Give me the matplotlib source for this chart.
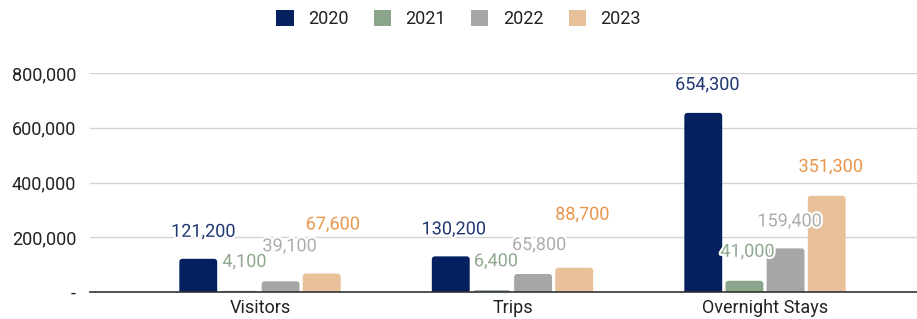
import matplotlib
matplotlib.use("Agg")
import matplotlib.pyplot as plt
import matplotlib.patheffects as pe
from matplotlib.patches import FancyBboxPatch, Patch
import numpy as np

categories = ["Visitors", "Trips", "Overnight Stays"]
years = ["2020", "2021", "2022", "2023"]
v2020 = [121200, 130200, 654300]
v2021 = [4100, 6400, 41000]
v2022 = [39100, 65800, 159400]
v2023 = [67600, 88700, 351300]
yticks = [0, 200000, 400000, 600000, 800000]
ytick_labels = ["-", "200,000", "400,000", "600,000", "800,000"]

series = [v2020, v2021, v2022, v2023]
bar_colors = ["#05205f", "#8aa58a", "#a6a6a6", "#e8c09a"]
label_colors = ["#1f3670", "#8fa88f", "#acacac", "#e8964a"]
# label vertical offsets (px above bar top), per series per category
label_dy = [[27, 27, 28], [29, 29, 29], [35, 29, 27], [49, 53, 29]]
label_dx = [[5, 3, 4], [5, 4, 3], [9, 6, 4], [11, 8, 4]]

plt.rcParams['font.family'] = ['Roboto', 'DejaVu Sans']

W, H = 917, 319
dpi = 100
fig = plt.figure(figsize=(W / dpi, H / dpi), dpi=dpi)
ax = fig.add_axes([90 / W, (H - 292) / H, 1 - 90 / W, (292 - 73) / H])

x = np.arange(len(categories))
pitch = 0.163
width = 0.15
px_per_unit = 252.5
ymax = 800000
py_per_unit = 219 / ymax
r_px = 3.0
rx = r_px / px_per_unit
ry = r_px / py_per_unit

for i, (vals, c) in enumerate(zip(series, bar_colors)):
    xs = x + (i - 1.5) * pitch
    bars = ax.bar(xs, vals, width=width, color=c, zorder=3)
    for b in bars:
        b.set_visible(False)
        p = FancyBboxPatch((b.get_x(), -ry), b.get_width(), b.get_height() + ry,
                           boxstyle=f"round,pad=0,rounding_size={rx}",
                           mutation_aspect=ry / rx, facecolor=c, edgecolor="none",
                           zorder=3)
        ax.add_patch(p)
    for j, (xx, v) in enumerate(zip(xs, vals)):
        ax.annotate(f"{v:,}", (xx, v),
                    xytext=(label_dx[i][j] * 72 / dpi, label_dy[i][j] * 72 / dpi),
                    textcoords="offset points", ha="center", va="center",
                    fontsize=13, color=label_colors[i], zorder=5,
                    path_effects=[pe.withStroke(linewidth=3, foreground="white")],
                    annotation_clip=False)

ax.set_xlim((90 - 260) / px_per_unit, (917 - 260) / px_per_unit)
ax.set_ylim(0, ymax)
ax.set_yticks(yticks)
ax.set_yticklabels(ytick_labels)
ax.set_xticks(x)
ax.set_xticklabels(categories)
ax.tick_params(axis='both', length=0, labelsize=13, colors="#222222")
ax.tick_params(axis='y', pad=10)
ax.tick_params(axis='x', pad=5)
ax.grid(axis='y', color="#d3d3d3", linewidth=1, zorder=0)
for s in ["top", "right", "left"]:
    ax.spines[s].set_visible(False)
ax.spines["bottom"].set_color("#333333")
ax.spines["bottom"].set_linewidth(1.2)
ax.spines["bottom"].set_zorder(4)

handles = [Patch(facecolor=c, edgecolor="none", label=y) for c, y in zip(bar_colors, years)]
leg = fig.legend(handles=handles, loc="center", bbox_to_anchor=(0.5, 1 - 19 / H), ncol=4,
                 frameon=False, fontsize=13, handlelength=0.95, handleheight=0.95,
                 columnspacing=1.4, handletextpad=0.8)
for t in leg.get_texts():
    t.set_color("#222222")

fig.savefig("out.png", dpi=dpi)
